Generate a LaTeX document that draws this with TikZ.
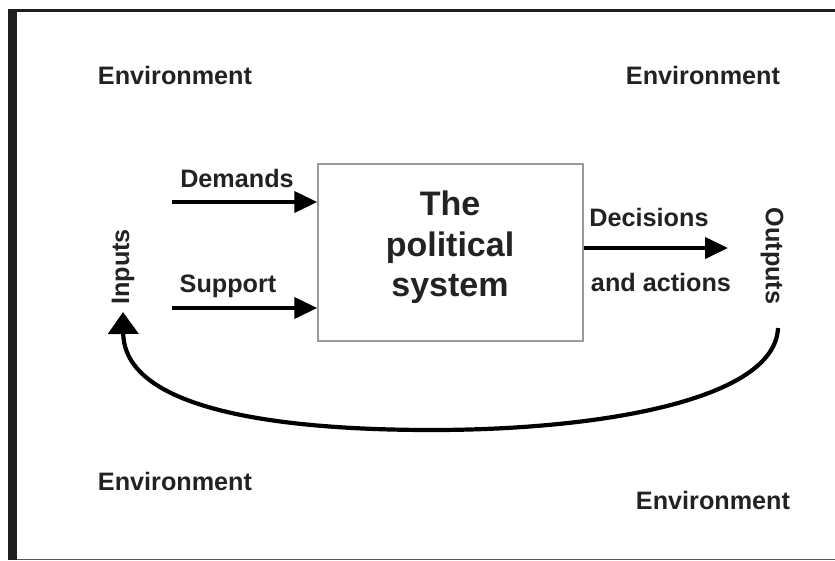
\documentclass[tikz,border=0pt]{standalone}
\usepackage{fontspec}
\setmainfont{Liberation Sans}
\usetikzlibrary{arrows.meta}
\definecolor{ink}{HTML}{222222}
\definecolor{bar}{HTML}{1E1E1E}
\definecolor{boxline}{HTML}{9A9A9A}
\tikzset{
  lbl/.style={text=ink, font=\fontsize{25.2}{29}\selectfont\bfseries, inner sep=0pt},
  bigtxt/.style={text=ink, font=\fontsize{34}{40.5}\selectfont\bfseries, align=center, inner sep=0pt},
  flow/.style={draw=black, line width=4pt, -{Triangle[length=23pt,width=21pt]}},
  loop/.style={draw=black, line width=4.2pt, -{Triangle[length=22pt,width=30pt]}},
  sysbox/.style={draw=boxline, line width=1.5pt, minimum width=265pt, minimum height=177pt, inner sep=0pt}
}
\begin{document}
\begin{tikzpicture}[x=1pt,y=-1pt]
\useasboundingbox (0,0) rectangle (835,560);
\fill[white] (0,0) rectangle (835,560);
% frame
\fill[bar] (8,9) rectangle (17,560);
\fill[bar] (8,9) rectangle (835,12);
\fill[gray!70!black] (17,558.5) rectangle (835,560);
% environment labels
\node[lbl] (envTL) at (175,75) {Environment};
\node[lbl] (envTR) at (703,75) {Environment};
\node[lbl] (envBL) at (175,481) {Environment};
\node[lbl] (envBR) at (713,500) {Environment};
% system box
\node[sysbox] (sys) at (450.5,252.5) {};
\node[bigtxt] (systxt) at (450,247.5) {The\\political\\system};
% inputs
\coordinate (dstart) at (172,202);
\coordinate (sstart) at (172,308);
\draw[flow] (dstart) -- (sys.west |- dstart);
\draw[flow] (sstart) -- (sys.west |- sstart);
\node[lbl] (demands) at (237,178) {Demands};
\node[lbl] (support) at (228,286) {Support};
\node[lbl, rotate=90] (inputs) at (123,267) {Inputs};
% outputs
\coordinate (decend) at (728,248);
\draw[flow] (sys.east |- decend) -- (decend);
\node[lbl] (decisions) at (649,217) {Decisions};
\node[lbl] (actions) at (661,282) {and actions};
\node[lbl, rotate=-90] (outputs) at (772,256) {Outputs};
% feedback loop
\coordinate (fbstart) at (778,328);
\coordinate (fbmid) at (432,430);
\coordinate (fbend) at (123,312);
\draw[loop] (fbstart) .. controls (775,400) and (600,430) .. (fbmid)
  .. controls (260,430) and (124,405) .. (fbend);
\end{tikzpicture}
\end{document}
